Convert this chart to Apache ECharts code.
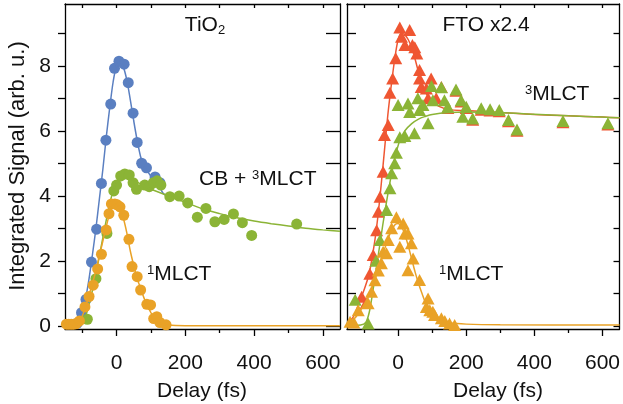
<!DOCTYPE html>
<html>
<head>
<meta charset="utf-8">
<script src="https://cdn.jsdelivr.net/npm/echarts@6.0.0/dist/echarts.min.js"></script>
<style>
html, body { margin: 0; padding: 0; background: #fff; }
#chart { width: 623px; height: 404px; }
</style>
</head>
<body>
<div id="chart"></div>
<script>
var chart = echarts.init(document.getElementById('chart'));

// axis ticks / labels
var xLabels = [0, 200, 400, 600];
var xMinor = [-100, 100, 300, 500];
var xTop = [-100, 0, 100, 200, 300, 400, 500, 600];
var yLabels = [0, 2, 4, 6, 8];
var yTicks = [0, 1, 2, 3, 4, 5, 6, 7, 8, 9];

// TiO2 panel: measured points [delay fs, signal]
var tioTotal = [[-115,0.07],[-102,0.4],[-89,0.81],[-73,1.96],[-58,2.97],[-44,4.38],[-31,5.71],[-17,6.82],
  [-6,7.92],[7,8.14],[22,8.05],[34,7.48],[48,6.54],[60,5.64],[73,5.0],[87,4.86],[112,4.58],[126,4.4]];
var tio3mlct = [[-85,0.2],[-60,1.45],[-28,2.84],[-8,4.15],[0,4.33],[12,4.61],[24,4.67],[37,4.64],[48,4.4],
  [58,4.2],[82,4.33],[95,4.28],[107,4.4],[118,4.46],[129,4.33],[155,3.97],[182,3.99],[207,3.78],
  [235,3.34],[260,3.61],[286,3.2],[313,3.27],[340,3.44],[366,3.17],[393,2.78],[524,3.13]];
var tio1mlct = [[-146,0.05],[-139,0.05],[-132,0.05],[-125,0.05],[-118,0.06],[-108,0.15],[-92,0.58],
  [-80,0.9],[-68,1.25],[-55,1.75],[-44,2.2],[-30,2.95],[-22,3.45],[-15,3.75],[-5,3.75],[2,3.72],
  [10,3.66],[21,3.4],[36,2.66],[45,1.82],[60,1.51],[70,1.1],[88,0.66],[99,0.64],[108,0.22],
  [117,0.28],[126,0.1],[144,0.03]];

// TiO2 panel: fit curves
var tioTotalFit = [[-150,0],[-125,0.02],[-110,0.2],[-100,0.45],[-90,0.85],[-80,1.45],[-70,2.2],[-60,3.0],
  [-50,3.9],[-40,4.8],[-30,5.8],[-20,6.7],[-10,7.5],[0,8.0],[10,8.1],[20,7.95],[30,7.55],[40,6.95],
  [50,6.3],[60,5.7],[70,5.2],[80,4.9],[90,4.75],[100,4.6],[120,4.35],[136,4.07],[150,3.98]];
var tio3mlctFit = [[-150,0],[-120,0.01],[-100,0.1],[-90,0.3],[-80,0.65],[-70,1.1],[-60,1.6],[-50,2.15],
  [-40,2.7],[-30,3.25],[-20,3.75],[-10,4.15],[0,4.4],[10,4.52],[25,4.55],[40,4.52],[60,4.42],[80,4.3],
  [100,4.2],[150,4.0],[200,3.8],[250,3.6],[300,3.45],[350,3.32],[400,3.22],[450,3.14],[500,3.07],
  [550,3.0],[600,2.95],[650,2.91]];
var tio1mlctFit = [[-150,0],[-130,0.02],[-115,0.08],[-100,0.3],[-90,0.6],[-80,0.95],[-70,1.3],[-60,1.7],
  [-50,2.15],[-40,2.6],[-30,3.05],[-20,3.45],[-10,3.7],[0,3.75],[10,3.6],[20,3.3],[30,2.85],[40,2.3],
  [50,1.85],[60,1.45],[70,1.15],[80,0.85],[90,0.6],[100,0.4],[110,0.2],[125,0.08],[150,0.02],
  [200,0],[650,0]];

// FTO panel: measured points
var ftoTotal = [[-107,0.89],[-94,0.7],[-83,1.6],[-73,2.18],[-63,2.94],[-58,3.51],[-53,3.97],[-44,4.74],
  [-40,5.87],[-29,6.18],[-24,7.17],[-16,7.61],[-7,8.23],[5,9.18],[10,8.89],[20,8.64],[34,9.1],[42,8.64],
  [49,8.57],[55,8.38],[63,7.87],[63,7.61],[68,7.35],[83,7.3],[88,7.0],[97,7.61],[112,7.0],[127,7.35],
  [146,6.7],[170,7.23],[185,6.9],[200,6.7],[219,6.34],[244,6.65],[270,6.62],[297,6.6],[324,6.29],
  [349,6.0],[484,6.26],[616,6.19]];
var fto3mlct = [[-126,0.8],[-88,0.07],[-65,2.0],[-53,2.64],[-34,3.56],[-24,4.23],[-19,4.69],[-10,5.0],
  [-5,5.32],[5,5.8],[20,5.84],[48,5.92],[88,6.23],[0,6.79],[29,6.84],[34,6.58],[58,7.0],[63,6.64],
  [73,6.79],[98,7.38],[127,7.34],[102,6.94],[136,6.94],[146,6.74],[170,7.27],[185,6.94],[200,6.74],
  [190,6.43],[219,6.38],[244,6.69],[270,6.66],[297,6.64],[324,6.33],[349,6.04],[484,6.3],[616,6.23]];
var fto1mlct = [[-141,0.12],[-130,0.1],[-117,0.48],[-88,0.69],[-78,1.05],[-68,1.4],[-58,1.7],[-49,1.92],
  [-44,2.28],[-34,2.23],[-29,2.64],[-19,3.0],[-5,3.34],[5,2.43],[15,3.15],[20,2.84],[29,2.84],[39,2.54],
  [44,2.07],[29,1.71],[63,1.41],[83,0.58],[88,0.84],[93,0.48],[102,0.43],[107,0.33],[127,0.23],
  [137,0.15],[151,0.07],[166,0.02]];

// FTO panel: fit curves
var ftoTotalFit = [[-150,0.05],[-130,0.3],[-115,0.7],[-100,1.1],[-85,1.6],[-70,2.5],[-60,3.3],[-50,4.3],
  [-40,5.4],[-30,6.5],[-20,7.4],[-10,8.2],[0,8.8],[10,9.0],[20,8.95],[30,8.8],[40,8.55],[50,8.2],
  [60,7.8],[70,7.45],[85,7.1],[100,6.9],[120,6.75],[150,6.65],[200,6.62],[300,6.56],[400,6.5],
  [500,6.46],[600,6.42],[650,6.4]];
var fto3mlctFit = [[-150,0],[-110,0.02],[-95,0.1],[-85,0.4],[-75,1.0],[-65,1.7],[-55,2.4],[-45,3.1],
  [-35,3.75],[-25,4.35],[-15,4.9],[-5,5.35],[5,5.7],[20,6.0],[40,6.22],[60,6.36],[80,6.44],[100,6.5],
  [150,6.56],[200,6.58],[300,6.56],[400,6.51],[500,6.46],[600,6.42],[650,6.4]];
var fto1mlctFit = [[-150,0.05],[-130,0.2],[-115,0.4],[-100,0.65],[-85,0.95],[-70,1.35],[-55,1.85],
  [-40,2.35],[-25,2.8],[-10,3.1],[0,3.15],[10,3.05],[20,2.8],[30,2.45],[40,2.05],[50,1.65],[60,1.3],
  [70,1.0],[80,0.72],[90,0.52],[100,0.38],[115,0.25],[130,0.15],[150,0.09],[200,0.05],[300,0.03],
  [650,0.02]];

var font = 'Liberation Sans, Arial, sans-serif';
var blue = '#5a7fc1', green = '#8bb436', orange = '#e9a227', red = '#ef5632';

function xAxes(grid) {
  return [{
    gridIndex: grid, type: 'value', position: 'bottom', min: -150, max: 650,
    axisLine: { onZero: false, lineStyle: { color: '#000', width: 1.3 } },
    axisTick: { customValues: xLabels, length: 7, lineStyle: { color: '#000', width: 1.3 } },
    axisLabel: { customValues: xLabels, color: '#111', fontSize: 21, fontFamily: font, margin: 24 },
    splitLine: { show: false }
  }, {
    gridIndex: grid, type: 'value', position: 'bottom', min: -150, max: 650,
    axisLine: { show: false, onZero: false },
    axisTick: { customValues: xMinor, length: 4, lineStyle: { color: '#000', width: 1.3 } },
    axisLabel: { show: false }, splitLine: { show: false }
  }, {
    gridIndex: grid, type: 'value', position: 'top', min: -150, max: 650,
    axisLine: { onZero: false, lineStyle: { color: '#000', width: 1.3 } },
    axisTick: { inside: true, customValues: xTop, length: 4, lineStyle: { color: '#000', width: 1.3 } },
    axisLabel: { show: false }, splitLine: { show: false }
  }];
}

function yAxis(grid, pos, inside, len, labels) {
  return {
    gridIndex: grid, type: 'value', position: pos, min: -0.1, max: 9.9,
    axisLine: { show: true, onZero: false, lineStyle: { color: '#000', width: 1.3 } },
    axisTick: { show: true, inside: inside, customValues: yTicks, length: len, lineStyle: { color: '#000', width: 1.3 } },
    axisLabel: labels ? { customValues: yLabels, color: '#111', fontSize: 21, fontFamily: font, margin: 14 } : { show: false },
    splitLine: { show: false }
  };
}

function pts(data, xi, yi, sym, color, z) {
  return {
    type: 'scatter', xAxisIndex: xi, yAxisIndex: yi, data: data, symbol: sym,
    symbolSize: sym === 'triangle' ? [13, 12] : 11, itemStyle: { color: color, opacity: 1 }, z: z,
    silent: true, animation: false
  };
}

function fit(data, xi, yi, color, z) {
  return {
    type: 'line', xAxisIndex: xi, yAxisIndex: yi, data: data, smooth: 0.3, showSymbol: false,
    lineStyle: { color: color, width: 1.5 }, z: z, silent: true, animation: false
  };
}

var textStyle = function (t) {
  return {
    text: t, fill: '#111', font: '21px ' + font,
    rich: {
      n: { fontSize: 21, fontFamily: font, fill: '#111' },
      s: { fontSize: 13, fontFamily: font, fill: '#111', padding: [0, 0, 8, 0] },
      b: { fontSize: 13, fontFamily: font, fill: '#111', padding: [10, 0, 0, 0] }
    }
  };
};

function label(x, y, t, align) {
  var st = textStyle(t);
  st.align = align || 'left';
  st.verticalAlign = 'middle';
  return { type: 'text', x: x, y: y, style: st, z: 100 };
}

var option = {
  backgroundColor: '#fff',
  animation: false,
  grid: [
    { left: 65, top: 4, width: 275, height: 325 },
    { left: 347, top: 4, width: 274, height: 325 }
  ],
  xAxis: xAxes(0).concat(xAxes(1)),
  yAxis: [
    yAxis(0, 'left', false, 7, true),
    yAxis(0, 'right', true, 14, false),
    yAxis(1, 'left', true, 9, false),
    yAxis(1, 'right', true, 6, false)
  ],
  series: [
    pts(tioTotal, 0, 0, 'circle', blue, 2),
    fit(tioTotalFit, 0, 0, blue, 3),
    pts(tio3mlct, 0, 0, 'circle', green, 4),
    fit(tio3mlctFit, 0, 0, green, 5),
    pts(tio1mlct, 0, 0, 'circle', orange, 6),
    fit(tio1mlctFit, 0, 0, orange, 7),
    pts(ftoTotal, 3, 2, 'triangle', red, 2),
    fit(ftoTotalFit, 3, 2, red, 3),
    pts(fto3mlct, 3, 2, 'triangle', green, 4),
    fit(fto3mlctFit, 3, 2, green, 5),
    pts(fto1mlct, 3, 2, 'triangle', orange, 6),
    fit(fto1mlctFit, 3, 2, orange, 7)
  ],
  graphic: [
    label(205, 25, '{n|TiO}{b|2}', 'center'),
    label(199, 179, '{n|CB + }{s|3}{n|MLCT}'),
    label(147, 274, '{s|1}{n|MLCT}'),
    label(486, 25, '{n|FTO x2.4}', 'center'),
    label(525, 94, '{s|3}{n|MLCT}'),
    label(439, 274, '{s|1}{n|MLCT}'),
    label(202, 391, '{n|Delay (fs)}', 'center'),
    label(498, 391, '{n|Delay (fs)}', 'center'),
    { type: 'text', x: 18, y: 166, rotation: Math.PI / 2, z: 100,
      style: { text: 'Integrated Signal (arb. u.)', fill: '#111', font: '22px ' + font, align: 'center', verticalAlign: 'middle' } }
  ]
};

chart.setOption(option);
window.onresize = chart.resize;
</script>
</body>
</html>
